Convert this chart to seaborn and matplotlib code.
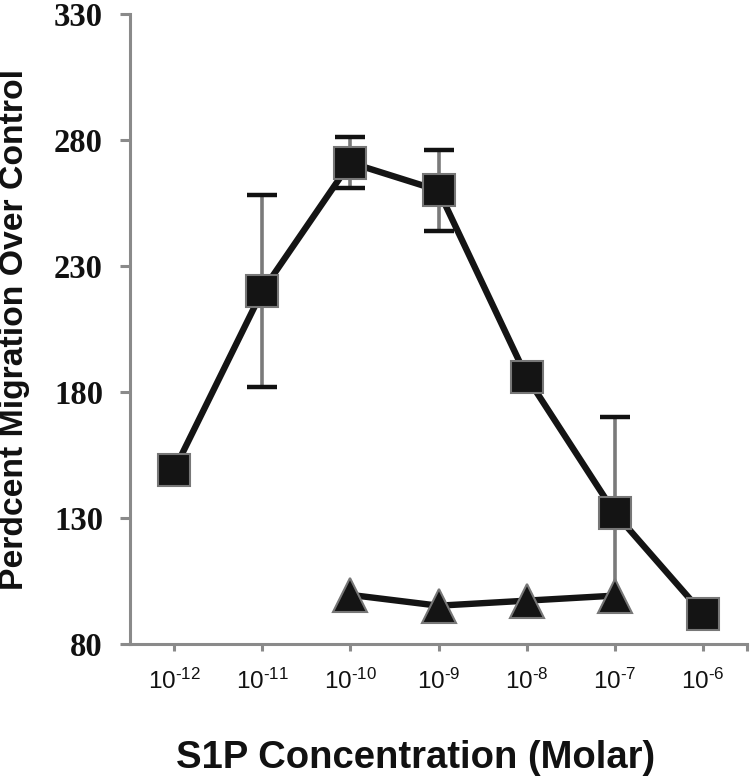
import matplotlib
matplotlib.use("Agg")
import matplotlib.pyplot as plt
import seaborn as sns
import pandas as pd

# ---- data ----
conc_exp = [-12, -11, -10, -9, -8, -7, -6]
tick_sup = ["-12", "-11", "-10", "-9", "-8", "-7", "-6"]
s1p_values = [149, 220, 271, 260, 186, 132, 92]
s1p_err = [None, 38, 10, 16, None, 38, None]

ctrl_exp = [-10, -9, -8, -7]
ctrl_values = [99.5, 95.2, 97.2, 99.2]

y_ticks = [80, 130, 180, 230, 280, 330]

sns.set_theme(style="white")
plt.rcParams["font.family"] = ["Liberation Sans", "DejaVu Sans"]
plt.rcParams["mathtext.fontset"] = "custom"
plt.rcParams["mathtext.rm"] = "Liberation Sans"

fig = plt.figure(figsize=(7.5, 7.77), dpi=100)
ax = fig.add_axes([130 / 750, 1 - 644 / 777, (747 - 130) / 750, (644 - 14) / 777])

df_s = pd.DataFrame({"exp": conc_exp, "val": s1p_values})
df_c = pd.DataFrame({"exp": ctrl_exp, "val": ctrl_values})

# error bars (gray stems, black caps)
ex = [e for e, er in zip(conc_exp, s1p_err) if er is not None]
ev = [v for v, er in zip(s1p_values, s1p_err) if er is not None]
ee = [er for er in s1p_err if er is not None]
ax.errorbar(ex, ev, yerr=ee, fmt="none", ecolor="#7a7a7a", elinewidth=2.6, capsize=0, zorder=2)
ax.errorbar(ex, ev, yerr=ee, fmt="none", ecolor="#111111", elinewidth=0, capsize=11, capthick=3.2, zorder=2)

line_kw = dict(color="#141414", linewidth=4.6, markeredgecolor="#777777", markeredgewidth=1.5,
               markerfacecolor="#141414")
sns.lineplot(data=df_s, x="exp", y="val", ax=ax, marker="s", markersize=23, zorder=3, **line_kw)
sns.lineplot(data=df_c, x="exp", y="val", ax=ax, marker="^", markersize=25, zorder=4, **line_kw)

ax.set_xlim(-12.5, -5.5)
ax.set_ylim(80, 330)
ax.set_yticks(y_ticks)
ax.set_yticklabels([str(t) for t in y_ticks], fontfamily="Liberation Serif", fontweight="bold",
                   fontsize=23.5, color="#111111")
ax.set_xticks(conc_exp + [-5.5])
ax.set_xticklabels(["$\\mathregular{10^{\\text{" + s + "}}}$" for s in tick_sup] + [""], fontsize=17.5,
                   color="#111111")
ax.set_xlabel("")
ax.set_ylabel("")

for side in ["top", "right"]:
    ax.spines[side].set_visible(False)
for side in ["left", "bottom"]:
    ax.spines[side].set_color("#8a8a8a")
    ax.spines[side].set_linewidth(2.2)

ax.tick_params(axis="y", direction="out", length=7.5, width=2.2, color="#8a8a8a", pad=12, left=True)
ax.tick_params(axis="x", direction="out", length=5, width=2.2, color="#8a8a8a", pad=13, bottom=True)

fig.text(416 / 750, 1 - 768 / 777, "S1P Concentration (Molar)", ha="center", va="baseline",
         fontsize=27.5, fontweight="bold", color="#111111")
fig.text(15 / 750, 1 - 330 / 777, "Perdcent Migration Over Control", ha="center", va="center",
         rotation=90, fontsize=24.3, fontweight="bold", color="#111111")

fig.savefig("out.png", dpi=100, facecolor="white")
